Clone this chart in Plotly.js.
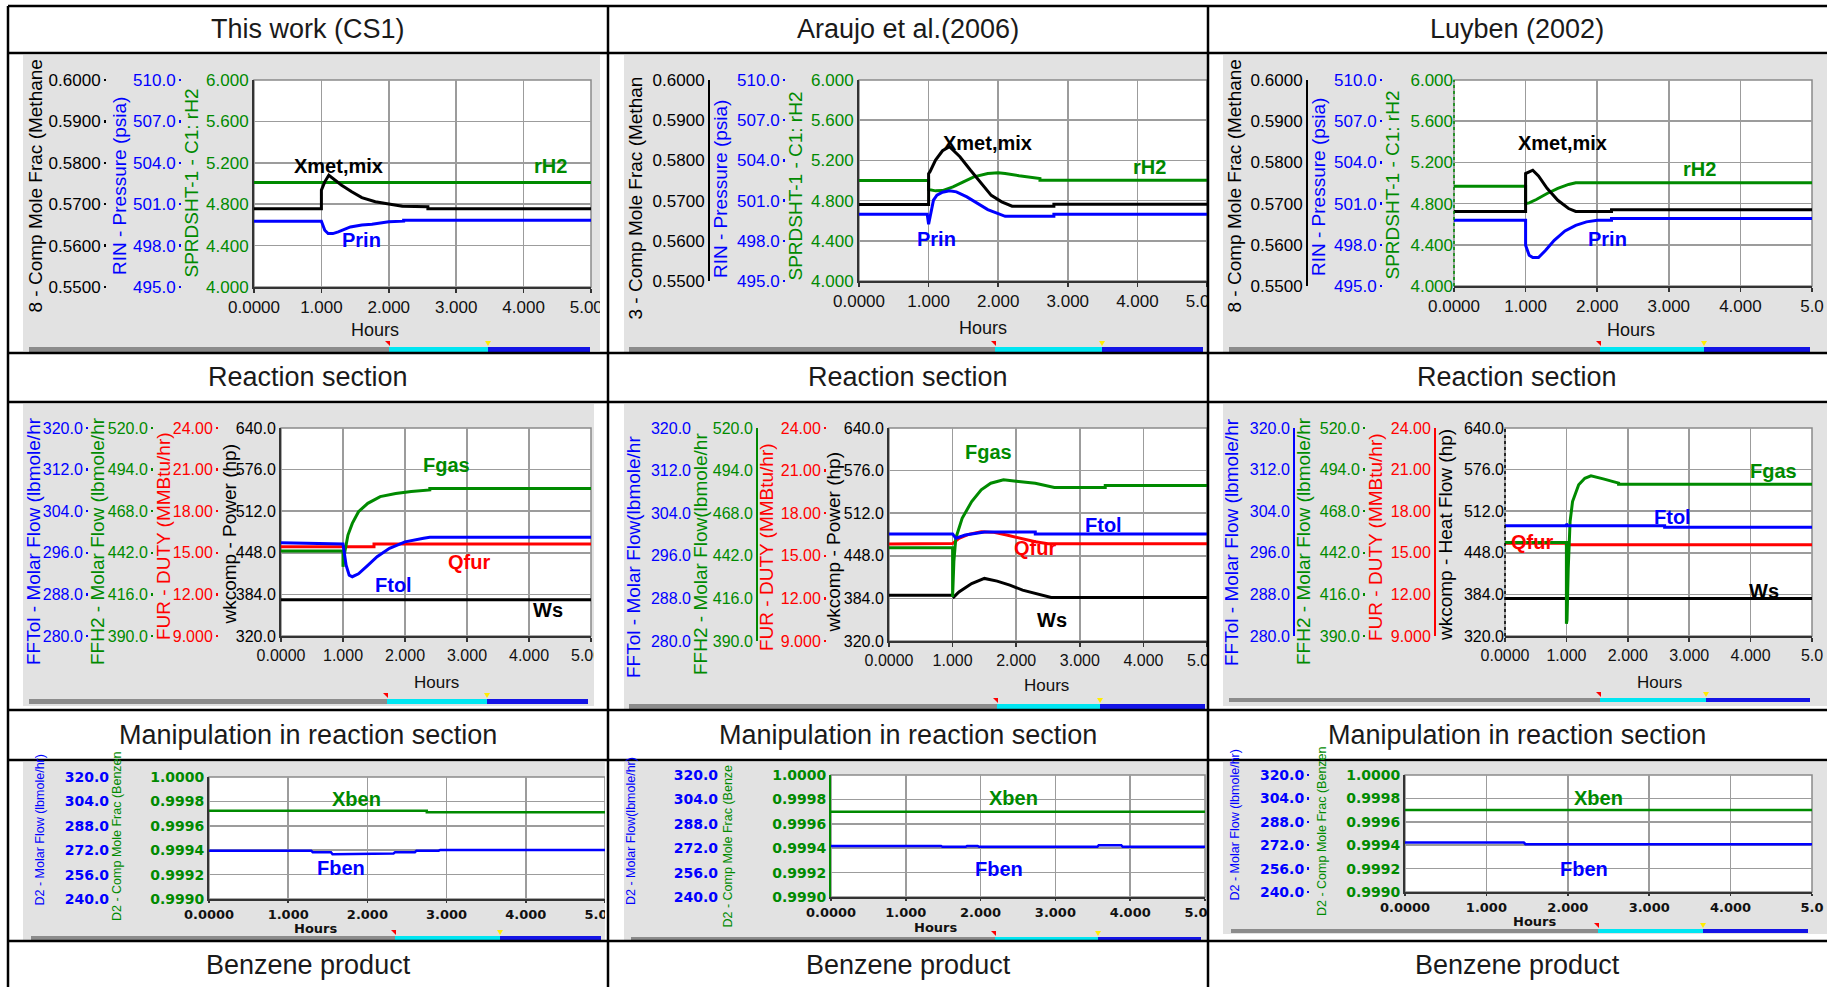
<!DOCTYPE html>
<html><head><meta charset="utf-8">
<script src="https://cdn.plot.ly/plotly-3.0.1.min.js"></script>
<style>html,body{margin:0;padding:0;background:#fff;}#chart{width:1827px;height:987px;}</style>
</head><body><div id="chart"></div>
<script>
// ================= DATA =================
const columnTitles = ['This work (CS1)', 'Araujo et al.(2006)', 'Luyben (2002)'];
const sectionTitles = ['Reaction section', 'Manipulation in reaction section', 'Benzene product'];

// tick values / labels
const hourTicks = [0, 1, 2, 3, 4, 5];
const hourLabels = ['0.0000', '1.000', '2.000', '3.000', '4.000', '5.000'];
const hourLabelsEdge = ['0.0000', '1.000', '2.000', '3.000', '4.000', '5.0'];
const methaneTicks = [0.55, 0.56, 0.57, 0.58, 0.59, 0.60];
const methaneLabels = ['0.5500', '0.5600', '0.5700', '0.5800', '0.5900', '0.6000'];
const pressureTicks = [495, 498, 501, 504, 507, 510];
const pressureLabels = ['495.0', '498.0', '501.0', '504.0', '507.0', '510.0'];
const rh2Ticks = [4.0, 4.4, 4.8, 5.2, 5.6, 6.0];
const rh2Labels = ['4.000', '4.400', '4.800', '5.200', '5.600', '6.000'];
const tolFlowTicks = [280, 288, 296, 304, 312, 320];
const tolFlowLabels = ['280.0', '288.0', '296.0', '304.0', '312.0', '320.0'];
const h2FlowTicks = [390, 416, 442, 468, 494, 520];
const h2FlowLabels = ['390.0', '416.0', '442.0', '468.0', '494.0', '520.0'];
const dutyTicks = [9, 12, 15, 18, 21, 24];
const dutyLabels = ['9.000', '12.00', '15.00', '18.00', '21.00', '24.00'];
const powerTicks = [320, 384, 448, 512, 576, 640];
const powerLabels = ['320.0', '384.0', '448.0', '512.0', '576.0', '640.0'];
const benFlowTicks = [240, 256, 272, 288, 304, 320];
const benFlowLabels = ['240.0', '256.0', '272.0', '288.0', '304.0', '320.0'];
const xbenTicks = [0.9990, 0.9992, 0.9994, 0.9996, 0.9998, 1.0000];
const xbenLabels = ['0.9990', '0.9992', '0.9994', '0.9996', '0.9998', '1.0000'];

// ---- Row 1 : reaction section ----
const cs1XmetT = [0, 1.0, 1.0, 1.05, 1.11, 1.2, 1.3, 1.45, 1.6, 1.8, 2.0, 2.2, 2.58, 2.58, 5];
const cs1Xmet  = [0.5689, 0.5689, 0.5734, 0.5754, 0.5770, 0.5758, 0.5746, 0.5730, 0.5716, 0.5706, 0.5700, 0.5695, 0.5694, 0.5689, 0.5689];
const cs1PrinT = [0, 1.0, 1.05, 1.1, 1.17, 1.25, 1.43, 1.6, 1.75, 2.0, 2.22, 2.22, 5];
const cs1Prin  = [499.77, 499.77, 499.11, 498.87, 498.87, 499.0, 499.35, 499.5, 499.55, 499.72, 499.77, 499.84, 499.84];
const cs1Rh2T  = [0, 5];
const cs1Rh2   = [5.01, 5.01];

const arXmetT = [0, 1.0, 1.0, 1.02, 1.1, 1.2, 1.3, 1.45, 1.6, 1.75, 1.9, 2.05, 2.2, 2.8, 2.8, 5];
const arXmet  = [0.5690, 0.5690, 0.5767, 0.5772, 0.5801, 0.5824, 0.5834, 0.5809, 0.5776, 0.5743, 0.5713, 0.5697, 0.5686, 0.5686, 0.5691, 0.5691];
const arPrinT = [0, 0.98, 1.0, 1.02, 1.07, 1.12, 1.2, 1.3, 1.4, 1.55, 1.7, 1.85, 2.0, 2.1, 2.8, 2.8, 5];
const arPrin  = [499.98, 499.98, 499.24, 499.78, 501.03, 501.40, 501.63, 501.73, 501.65, 501.28, 500.78, 500.33, 500.03, 499.83, 499.83, 499.98, 499.98];
const arRh2T  = [0, 1.0, 1.0, 1.1, 1.2, 1.35, 1.5, 1.65, 1.85, 2.0, 2.1, 2.3, 2.6, 2.6, 5];
const arRh2   = [5.00, 5.00, 4.91, 4.897, 4.90, 4.937, 4.987, 5.036, 5.07, 5.076, 5.07, 5.047, 5.02, 5.003, 5.003];

const luXmetT = [0, 1.0, 1.0, 1.05, 1.1, 1.18, 1.3, 1.45, 1.6, 1.7, 2.2, 2.2, 5];
const luXmet  = [0.5681, 0.5681, 0.5773, 0.5777, 0.5781, 0.5767, 0.5737, 0.5708, 0.5688, 0.5681, 0.5681, 0.5685, 0.5685];
const luPrinT = [0, 1.0, 1.0, 1.05, 1.1, 1.18, 1.28, 1.4, 1.55, 1.7, 1.85, 2.0, 2.2, 2.2, 5];
const luPrin  = [499.79, 499.79, 497.97, 497.24, 497.07, 497.07, 497.60, 498.33, 499.01, 499.42, 499.67, 499.79, 499.79, 499.91, 499.91];
const luRh2T  = [0, 1.0, 1.0, 1.05, 1.15, 1.3, 1.45, 1.6, 1.7, 5];
const luRh2   = [4.969, 4.969, 4.80, 4.807, 4.84, 4.898, 4.947, 4.986, 5.002, 5.002];

// ---- Row 2 : manipulation in reaction section ----
const cs1FgasT = [0, 1.0, 1.0, 1.03, 1.08, 1.15, 1.25, 1.4, 1.6, 1.85, 2.1, 2.4, 2.4, 5];
const cs1Fgas  = [443.1, 443.1, 433.3, 442.7, 453.1, 460.4, 467.7, 472.9, 477.1, 479.0, 480.3, 481.3, 482.2, 482.2];
const cs1FtolT = [0, 1.0, 1.05, 1.1, 1.15, 1.25, 1.4, 1.55, 1.75, 2.0, 2.3, 2.4, 5];
const cs1Ftol  = [297.94, 297.7, 293.6, 291.7, 291.4, 291.97, 293.6, 295.24, 296.85, 298.1, 298.78, 298.97, 298.97];
const cs1QfurT = [0, 1.5, 1.5, 5];
const cs1Qfur  = [15.44, 15.44, 15.63, 15.63];
const cs1WsT   = [0, 5];
const cs1Ws    = [375.6, 375.6];

const arFgasT = [0, 1.0, 1.0, 1.02, 1.05, 1.15, 1.3, 1.45, 1.6, 1.8, 2.0, 2.3, 2.6, 3.4, 3.4, 5];
const arFgas  = [446.9, 446.9, 416.9, 438.4, 452.7, 464.9, 475.1, 482.3, 486.3, 488.4, 487.5, 486.3, 483.7, 483.7, 484.9, 484.9];
const arFtolT = [0, 1.0, 1.05, 1.2, 1.5, 2.3, 2.3, 5];
const arFtol  = [300.1, 300.1, 299.3, 299.9, 300.47, 300.47, 300.1, 300.1];
const arQfurT = [0, 1.0, 1.1, 1.25, 1.45, 1.65, 1.85, 2.05, 2.3, 2.5, 5];
const arQfur  = [15.83, 15.86, 16.23, 16.51, 16.70, 16.65, 16.46, 16.23, 15.99, 15.85, 15.85];
const arWsT   = [0, 1.0, 1.02, 1.1, 1.3, 1.5, 1.7, 1.9, 2.1, 2.35, 2.55, 5];
const arWs    = [388.8, 388.8, 386.3, 393.8, 406.4, 414.0, 410.0, 404.0, 396.5, 390.0, 385.3, 385.3];

const luFgasT = [0, 1.0, 1.0, 1.01, 1.03, 1.06, 1.1, 1.2, 1.3, 1.4, 1.6, 1.8, 1.85, 1.85, 5];
const luFgas  = [448.5, 448.5, 397.7, 400.0, 432.2, 461.5, 474.0, 484.5, 488.6, 490.1, 488.2, 486.1, 485.6, 484.9, 484.9];
const luFtolT = [0, 1.0, 1.0, 1.02, 2.6, 2.6, 5];
const luFtol  = [301.2, 301.2, 301.6, 301.2, 301.2, 300.9, 300.9];
const luQfurT = [0, 1.0, 1.0, 5];
const luQfur  = [15.68, 15.68, 15.58, 15.58];
const luWsT   = [0, 5];
const luWs    = [377.6, 377.6];

// ---- Row 3 : benzene product ----
const cs1XbenT = [0, 2.75, 2.75, 5];
const cs1Xben  = [0.999723, 0.999723, 0.999712, 0.999712];
const cs1FbenT = [0, 1.29, 1.31, 1.54, 1.56, 2.0, 2.02, 2.33, 2.35, 2.6, 2.62, 2.9, 2.92, 5];
const cs1Fben  = [271.7, 271.7, 270.7, 270.7, 269.4, 269.4, 269.8, 269.8, 270.7, 270.7, 271.7, 271.7, 272.2, 272.2];
const arXbenT = [0, 5];
const arXben  = [0.999699, 0.999699];
const arFbenT = [0, 1.47, 1.49, 1.80, 1.82, 1.96, 1.98, 3.56, 3.58, 3.88, 3.90, 5];
const arFben  = [273.5, 273.5, 272.9, 272.9, 273.5, 273.5, 272.9, 272.9, 274.0, 274.0, 272.9, 272.9];
const luXbenT = [0, 5];
const luXben  = [0.9997, 0.9997];
const luFbenT = [0, 1.46, 1.48, 5];
const luFben  = [273.8, 273.8, 272.7, 272.7];

// ================= STYLE / LAYOUT =================
const W = 1827, H = 987;
const PX = x => x / W;
const PY = y => 1 - y / H;
const GREEN = '#008a00', BLUE = '#0000ff', RED = '#ff0000', BLACK = '#000000';
const GRID = '#9c9c9c', PANEL = '#e2e2e2';
const SANS = 'Liberation Sans, Arial, Helvetica, sans-serif';
const WIDE = 'DejaVu Sans, Verdana, sans-serif';

const AX = {
  met:   {range: [0.55, 0.60], ticks: methaneTicks, labels: methaneLabels, color: BLACK},
  pres:  {range: [495, 510], ticks: pressureTicks, labels: pressureLabels, color: BLUE},
  rh2:   {range: [4, 6], ticks: rh2Ticks, labels: rh2Labels, color: GREEN},
  ftol:  {range: [280, 320], ticks: tolFlowTicks, labels: tolFlowLabels, color: BLUE},
  fh2:   {range: [390, 520], ticks: h2FlowTicks, labels: h2FlowLabels, color: GREEN},
  duty:  {range: [9, 24], ticks: dutyTicks, labels: dutyLabels, color: RED},
  power: {range: [320, 640], ticks: powerTicks, labels: powerLabels, color: BLACK},
  bflow: {range: [240, 320], ticks: benFlowTicks, labels: benFlowLabels, color: BLUE},
  xben:  {range: [0.999, 1.0], ticks: xbenTicks, labels: xbenLabels, color: GREEN}
};

const ROWSTYLE = [
  {tick: {family: SANS, size: 17}, xtick: {family: SANS, size: 17}, title: {family: SANS, size: 19}, label: 20, hours: {family: SANS, size: 18}, lw: 3, xlen: 4},
  {tick: {family: SANS, size: 16}, xtick: {family: SANS, size: 16}, title: {family: SANS, size: 19}, label: 20, hours: {family: SANS, size: 17}, lw: 3, xlen: 4},
  {tick: {family: WIDE, size: 14, weight: 'bold'}, xtick: {family: WIDE, size: 13, weight: 'bold'}, title: {family: SANS, size: 12.5}, label: 20, hours: {family: WIDE, size: 13, weight: 'bold'}, lw: 2.5, xlen: 2}
];

const PANELS = [
  {row: 0, plot: [254, 591, 80, 287], gray: [23, 601, 55, 351], bar: [29, 389, 488, 590, 347, 352], hours: [375, 330], xlab: hourLabels,
   axes: [{k: 'rh2', title: 'SPRDSHT-1 - C1: rH2', tx: 191, tb: 280},
          {k: 'pres', pos: 181, tick: true, title: 'RIN - Pressure (psia)', tx: 119, tb: 277},
          {k: 'met', pos: 106, tick: true, title: '8 - Comp Mole Frac (Methane', tx: 35, tb: 315}],
   series: [{t: cs1Rh2T, v: cs1Rh2, a: 0}, {t: cs1XmetT, v: cs1Xmet, a: 2}, {t: cs1PrinT, v: cs1Prin, a: 1}],
   labels: [['Xmet,mix', 1.26, 5.171, 2], ['rH2', 4.40, 5.17, 0], ['Prin', 1.59, 4.452, 1]]},
  {row: 0, plot: [859, 1207, 80, 281], gray: [624, 1208, 55, 352], bar: [629, 995, 1102, 1203, 347, 352], hours: [983, 328], xlab: hourLabels,
   axes: [{k: 'rh2', title: 'SPRDSHT-1 - C1: rH2', tx: 795, tb: 283},
          {k: 'pres', pos: 785, tick: true, title: 'RIN - Pressure (psia)', tx: 721, tb: 280},
          {k: 'met', pos: 708, line: true, title: '3 - Comp Mole Frac (Methan', tx: 635, tb: 322}],
   series: [{t: arRh2T, v: arRh2, a: 0}, {t: arXmetT, v: arXmet, a: 2}, {t: arPrinT, v: arPrin, a: 1}],
   labels: [['Xmet,mix', 1.84, 5.369, 2], ['rH2', 4.17, 5.136, 0], ['Prin', 1.12, 4.42, 1]]},
  {row: 0, plot: [1454, 1812, 80, 286], gray: [1223, 1827, 55, 352], bar: [1229, 1600, 1704, 1810, 347, 352], hours: [1631, 330], xlab: hourLabelsEdge,
   axes: [{k: 'rh2', dotted: true, title: 'SPRDSHT-1 - C1: rH2', tx: 1392, tb: 282},
          {k: 'pres', pos: 1382, tick: true, title: 'RIN - Pressure (psia)', tx: 1318, tb: 278},
          {k: 'met', pos: 1306, line: true, title: '8 - Comp Mole Frac (Methane', tx: 1234, tb: 315}],
   series: [{t: luRh2T, v: luRh2, a: 0}, {t: luXmetT, v: luXmet, a: 2}, {t: luPrinT, v: luPrin, a: 1}],
   labels: [['Xmet,mix', 1.51, 5.384, 2], ['rH2', 3.43, 5.14, 0], ['Prin', 2.15, 4.46, 1]]},

  {row: 1, plot: [281, 591, 428, 636], gray: [23, 594, 404, 706], bar: [29, 387, 487, 588, 699, 704], hours: [436, 682], xlab: hourLabels,
   axes: [{k: 'power', title: 'wkcomp - Power (hp)', tx: 229, tb: 627},
          {k: 'duty', pos: 218, tick: true, title: 'FUR - DUTY (MMBtu/hr)', tx: 163, tb: 642},
          {k: 'fh2', pos: 153, tick: true, title: 'FFH2 - Molar Flow (lbmole/hr', tx: 97, tb: 667},
          {k: 'ftol', pos: 88, tick: true, title: 'FFTol - Molar Flow (lbmole/hr', tx: 33, tb: 667}],
   series: [{t: cs1FgasT, v: cs1Fgas, a: 2}, {t: cs1FtolT, v: cs1Ftol, a: 3}, {t: cs1QfurT, v: cs1Qfur, a: 1}, {t: cs1WsT, v: cs1Ws, a: 0}],
   labels: [['Fgas', 2.67, 583.4, 2], ['Qfur', 3.03, 434.2, 1], ['Ftol', 1.82, 398.2, 3], ['Ws', 4.31, 359.6, 0]]},
  {row: 1, plot: [889, 1207, 428, 641], gray: [624, 1208, 404, 709], bar: [629, 997, 1100, 1205, 704, 709], hours: [1046, 685], xlab: hourLabels,
   axes: [{k: 'power', title: 'wkcomp - Power (hp)', tx: 833, tb: 635},
          {k: 'duty', pos: 826, tick: true, title: 'FUR - DUTY (MMBtu/hr)', tx: 766, tb: 653},
          {k: 'fh2', pos: 756, line: true, title: 'FFH2 - Molar Flow(lbmole/hr', tx: 700, tb: 677},
          {k: 'ftol', pos: 691, title: 'FFTol - Molar Flow(lbmole/hr', tx: 633, tb: 680}],
   series: [{t: arFgasT, v: arFgas, a: 2}, {t: arFtolT, v: arFtol, a: 3}, {t: arQfurT, v: arQfur, a: 1}, {t: arWsT, v: arWs, a: 0}],
   labels: [['Fgas', 1.56, 603.8, 2], ['Ftol', 3.37, 495.0, 3], ['Qfur', 2.29, 460.2, 1], ['Ws', 2.56, 351.1, 0]]},
  {row: 1, plot: [1505, 1812, 428, 636], gray: [1223, 1827, 404, 706], bar: [1229, 1600, 1706, 1810, 698, 702], hours: [1659, 682], xlab: hourLabelsEdge,
   axes: [{k: 'power', dotted: true, title: 'wkcomp - Heat Flow (hp)', tx: 1445, tb: 643},
          {k: 'duty', pos: 1434, line: true, title: 'FUR - DUTY (MMBtu/hr)', tx: 1375, tb: 643},
          {k: 'fh2', pos: 1365, tick: true, title: 'FFH2 - Molar Flow (lbmole/hr', tx: 1303, tb: 667},
          {k: 'ftol', pos: 1293, line: true, title: 'FFTol - Molar Flow (lbmole/hr', tx: 1231, tb: 668}],
   series: [{t: luFgasT, v: luFgas, a: 2}, {t: luFtolT, v: luFtol, a: 3}, {t: luQfurT, v: luQfur, a: 1}, {t: luWsT, v: luWs, a: 0}],
   labels: [['Fgas', 4.37, 574.1, 2], ['Ftol', 2.72, 503.7, 3], ['Qfur', 0.44, 465.1, 1], ['Ws', 4.22, 388.9, 0]]},

  {row: 2, plot: [209, 605, 777, 899], gray: [23, 608, 762, 940], bar: [31, 395, 500, 601, 936, 940], hours: [315, 928], xlab: hourLabels,
   axes: [{k: 'xben', title: 'D2 - Comp Mole Frac (Benzen', tx: 117, tb: 923},
          {k: 'bflow', pos: 109, title: 'D2 - Molar Flow (lbmole/hr)', tx: 39, tb: 908}],
   series: [{t: cs1XbenT, v: cs1Xben, a: 0}, {t: cs1FbenT, v: cs1Fben, a: 1}],
   labels: [['Xben', 1.86, 0.999823, 0], ['Fben', 1.67, 0.999253, 1]]},
  {row: 2, plot: [831, 1205, 775, 897], gray: [624, 1208, 762, 940], bar: [631, 995, 1098, 1201, 937, 941], hours: [935, 927], xlab: hourLabels,
   axes: [{k: 'xben', lineColor: GREEN, title: 'D2 - Comp Mole Frac (Benze', tx: 727, tb: 930},
          {k: 'bflow', pos: 718, title: 'D2 - Molar Flow(lbmole/hr)', tx: 631, tb: 907}],
   series: [{t: arXbenT, v: arXben, a: 0}, {t: arFbenT, v: arFben, a: 1}],
   labels: [['Xben', 2.44, 0.999808, 0], ['Fben', 2.24, 0.999233, 1]]},
  {row: 2, plot: [1405, 1812, 775, 892], gray: [1223, 1827, 762, 934], bar: [1231, 1598, 1703, 1808, 929, 933], hours: [1534, 921], xlab: hourLabelsEdge,
   axes: [{k: 'xben', title: 'D2 - Comp Mole Frac (Benzen', tx: 1322, tb: 918},
          {k: 'bflow', pos: 1309, tick: true, title: 'D2 - Molar Flow (lbmole/hr)', tx: 1234, tb: 903}],
   series: [{t: luXbenT, v: luXben, a: 0}, {t: luFbenT, v: luFben, a: 1}],
   labels: [['Xben', 2.38, 0.999806, 0], ['Fben', 2.20, 0.9992, 1]]}
];

const layout = {
  width: W, height: H, margin: {l: 0, r: 0, t: 0, b: 0},
  paper_bgcolor: '#ffffff', plot_bgcolor: 'rgba(0,0,0,0)', showlegend: false,
  shapes: [], annotations: []
};
const shapes = layout.shapes, anns = layout.annotations;
const traces = [];
const xid = n => n === 1 ? 'x' : 'x' + n;
const xkey = n => n === 1 ? 'xaxis' : 'xaxis' + n;
const yid = n => n === 1 ? 'y' : 'y' + n;
const ykey = n => n === 1 ? 'yaxis' : 'yaxis' + n;

function rect(x0, x1, y0, y1, fill, layer, line) {
  return {type: 'rect', xref: 'paper', yref: 'paper', x0: PX(x0), x1: PX(x1), y0: PY(y1), y1: PY(y0),
          fillcolor: fill, line: line || {width: 0}, layer: layer || 'below'};
}

let yN = 0;
PANELS.forEach((p, i) => {
  const st = ROWSTYLE[p.row];
  const xn = i + 1;
  const ids = p.axes.map(() => ++yN);
  const [L, R, T, B] = p.plot;

  shapes.push(rect(p.gray[0], p.gray[1], p.gray[2], p.gray[3], PANEL));
  shapes.push(rect(L, R, T, B, '#ffffff', 'below', {color: '#8a8a8a', width: 1.5}));
  const [b0, b1, b2, b3, by0, by1] = p.bar;
  shapes.push(rect(b0, b1, by0, by1, '#8c8c8c'));
  shapes.push(rect(b1, b2, by0, by1, '#00e6f2'));
  shapes.push(rect(b2, b3, by0, by1, '#1414e6'));
  shapes.push({type: 'path', xref: 'paper', yref: 'paper', layer: 'below', fillcolor: '#ff0000', line: {width: 0},
               path: `M ${PX(b1 - 4)} ${PY(by0 - 6)} L ${PX(b1 + 1)} ${PY(by0 - 6)} L ${PX(b1 + 1)} ${PY(by0 - 1)} Z`});
  shapes.push({type: 'path', xref: 'paper', yref: 'paper', layer: 'below', fillcolor: '#ffee00', line: {width: 0},
               path: `M ${PX(b2 - 3)} ${PY(by0 - 6)} L ${PX(b2 + 3)} ${PY(by0 - 6)} L ${PX(b2)} ${PY(by0 - 1)} Z`});

  layout[xkey(xn)] = {
    domain: [PX(L), PX(R)], range: [0, 5], anchor: yid(ids[0]),
    tickmode: 'array', tickvals: hourTicks, ticktext: p.xlab, ticklabeloverflow: 'allow',
    tickfont: Object.assign({}, st.xtick, {color: '#111111'}),
    showgrid: true, gridcolor: GRID, gridwidth: 1.5, zeroline: false,
    showline: true, linecolor: '#333333', linewidth: 2,
    ticks: 'outside', ticklen: st.xlen, tickwidth: 1.5, tickcolor: '#333333', fixedrange: true
  };

  p.axes.forEach((a, k) => {
    const s = AX[a.k];
    const ax = {
      range: s.range, tickmode: 'array', tickvals: s.ticks, ticktext: s.labels, ticklabeloverflow: 'allow',
      tickfont: Object.assign({}, st.tick, {color: s.color}),
      zeroline: false, fixedrange: true,
      showgrid: k === 0, gridcolor: GRID, gridwidth: 1.5,
      ticks: a.tick ? 'outside' : '', ticklen: 2, tickwidth: 2.5, tickcolor: s.color,
      showline: !!a.line, linecolor: s.color, linewidth: 1.5
    };
    if (k === 0) {
      ax.domain = [PY(B), PY(T)];
      ax.anchor = xid(xn);
      ax.showline = !a.dotted;
      ax.linecolor = a.lineColor || '#333333';
      ax.linewidth = 2;
    } else {
      ax.overlaying = yid(ids[0]);
      ax.anchor = 'free';
      ax.position = PX(a.pos);
      ax.side = 'left';
    }
    layout[ykey(ids[k])] = ax;
    anns.push({xref: 'paper', yref: 'paper', x: PX(a.tx), y: PY(a.tb), xanchor: 'center', yanchor: 'bottom',
               textangle: -90, showarrow: false, text: a.title,
               font: Object.assign({}, st.title, {color: s.color})});
    if (a.dotted) {
      shapes.push({type: 'line', xref: 'paper', yref: 'paper', x0: PX(L), x1: PX(L), y0: PY(B), y1: PY(T),
                   line: {color: s.color, width: 1.5, dash: 'dot'}, layer: 'above'});
    }
  });

  p.series.forEach(se => {
    traces.push({type: 'scatter', mode: 'lines', x: se.t, y: se.v, xaxis: xid(xn), yaxis: yid(ids[se.a]),
                 line: {color: AX[p.axes[se.a].k].color, width: st.lw}, hoverinfo: 'skip'});
  });

  p.labels.forEach(([txt, lx, ly, a]) => {
    anns.push({xref: xid(xn), yref: yid(ids[0]), x: lx, y: ly, text: '<b>' + txt + '</b>', showarrow: false,
               xanchor: 'center', yanchor: 'middle',
               font: {family: SANS, size: st.label, color: AX[p.axes[a].k].color}});
  });

  anns.push({xref: 'paper', yref: 'paper', x: PX(p.hours[0]), y: PY(p.hours[1]), xanchor: 'center', yanchor: 'middle',
             showarrow: false, text: 'Hours', font: Object.assign({}, st.hours, {color: '#111111'})});
});

// masks so tick labels do not spill past each chart window (white gap, then next panel's grey edge)
[[600, 624, 55, 352], [1208, 1223, 55, 352], [594, 624, 404, 709], [1208, 1223, 404, 709],
 [605, 624, 762, 940], [1208, 1223, 762, 940]].forEach(m => shapes.push(rect(m[0], m[1], m[2], m[3], '#ffffff', 'above')));
[[624, 629, 300, 345], [1223, 1229, 270, 345], [624, 629, 650, 702], [1223, 1229, 650, 697],
 [624, 630, 900, 935], [1223, 1229, 900, 928]].forEach(m => shapes.push(rect(m[0], m[1], m[2], m[3], PANEL, 'above')));

// table grid
[6, 53, 353, 402, 710, 760, 941].forEach(y => shapes.push({type: 'line', xref: 'paper', yref: 'paper', layer: 'above',
  x0: PX(8), x1: 1, y0: PY(y), y1: PY(y), line: {color: '#000000', width: 2.5}}));
[8, 608, 1208].forEach(x => shapes.push({type: 'line', xref: 'paper', yref: 'paper', layer: 'above',
  x0: PX(x), x1: PX(x), y0: PY(6), y1: 0, line: {color: '#000000', width: 2.5}}));

// captions
const colCenters = [308, 908, 1517];
const capFont = {family: SANS, size: 27, color: '#1a1a1a'};
columnTitles.forEach((t, c) => anns.push({xref: 'paper', yref: 'paper', x: PX(colCenters[c]), y: PY(29), text: t,
  showarrow: false, xanchor: 'center', yanchor: 'middle', font: capFont}));
const secY = [377, 735, 965];
sectionTitles.forEach((t, r) => colCenters.forEach(cx => anns.push({xref: 'paper', yref: 'paper', x: PX(cx), y: PY(secY[r]),
  text: t, showarrow: false, xanchor: 'center', yanchor: 'middle', font: capFont})));

Plotly.newPlot('chart', traces, layout, {staticPlot: true, displayModeBar: false});
</script>
</body></html>
